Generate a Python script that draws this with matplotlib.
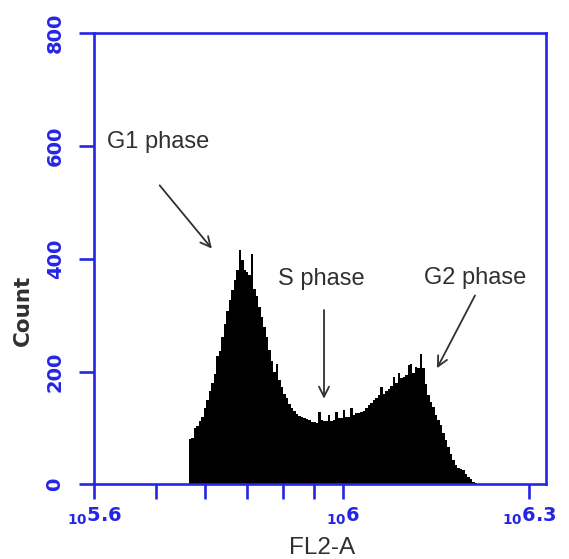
import numpy as np
import matplotlib
matplotlib.use("Agg")
import matplotlib.pyplot as plt
from matplotlib.ticker import NullFormatter

# Cell counts per FL2-A channel (log-spaced channels)
counts = [80, 82, 100, 104, 112, 120, 136, 150, 165, 180,
          196, 228, 236, 262, 285, 308, 326, 344, 362, 380,
          415, 398, 380, 376, 372, 408, 346, 334, 314, 296,
          279, 262, 238, 218, 200, 214, 186, 172, 161, 154,
          143, 136, 130, 125, 122, 120, 118, 116, 114, 111,
          110, 109, 128, 115, 113, 112, 124, 113, 115, 128,
          117, 118, 132, 119, 120, 136, 124, 126, 126, 128,
          131, 136, 140, 144, 149, 154, 158, 173, 161, 166,
          170, 174, 190, 179, 197, 188, 191, 194, 211, 214,
          198, 208, 206, 232, 206, 178, 158, 147, 138, 124,
          114, 105, 92, 79, 66, 54, 44, 35, 30, 28,
          26, 19, 14, 10, 5, 3]

# first channel edge and channel width, in decades
channel_start_log = 5.752
channel_width_log = 0.004

major_ticks_log = [5.6, 6.0, 6.3]
major_tick_labels = [r"$\mathbf{{}_{10}5.6}$", r"$\mathbf{{}_{10}6}$", r"$\mathbf{{}_{10}6.3}$"]
minor_ticks = [5e5, 6e5, 7e5, 8e5, 9e5]
y_ticks = [0, 200, 400, 600, 800]

phase_labels = ["G1 phase", "S phase", "G2 phase"]

BLUE = "#2525e6"
INK = "#303030"

fig = plt.figure(figsize=(5.69, 5.59), dpi=100)
ax = fig.add_axes([0.166, 0.1333, 0.7936, 0.8077])

edges = 10 ** (channel_start_log + channel_width_log * np.arange(len(counts) + 1))
ax.stairs(counts, edges, fill=True, color="black", linewidth=0)

ax.set_xscale("log")
ax.set_xlim(10 ** 5.6, 10 ** 6.327)
ax.set_ylim(0, 800)

ax.set_xticks(10 ** np.array(major_ticks_log), labels=major_tick_labels)
ax.set_xticks(minor_ticks, minor=True)
ax.xaxis.set_minor_formatter(NullFormatter())
ax.set_yticks(y_ticks, labels=[str(v) for v in y_ticks])

for sp in ax.spines.values():
    sp.set_color(BLUE)
    sp.set_linewidth(1.9)

ax.tick_params(axis="both", which="both", direction="out", length=10.5,
               width=1.9, color=BLUE, labelcolor=BLUE)
ax.tick_params(axis="x", which="major", pad=5, labelsize=14)
ax.tick_params(axis="y", which="major", pad=11, labelsize=14, labelrotation=90)
for lab in ax.get_yticklabels():
    lab.set_fontweight("bold")
    lab.set_verticalalignment("center")
    lab.set_fontfamily("DejaVu Sans")

# axis titles
ax.text(-0.158, 0.386, "Count", rotation=90, transform=ax.transAxes,
        ha="center", va="center", fontsize=15.5, fontweight="bold",
        color=INK, family="DejaVu Sans")
fig.text(0.504 * 0.7936 + 0.166, 0.0197, "FL2-A", ha="center", va="center",
         fontsize=17.5, color=INK, family="Liberation Sans")

txt = dict(fontsize=17, color=INK, family="Liberation Sans")
arrow = dict(arrowstyle="->", color=INK, lw=1.3, shrinkA=0, shrinkB=0,
             mutation_scale=18)

ax.text(10 ** 5.62, 596, phase_labels[0], ha="left", va="baseline", **txt)
ax.annotate("", xy=(10 ** 5.789, 418), xytext=(10 ** 5.705, 530), arrowprops=arrow)

ax.text(10 ** 5.9655, 353, phase_labels[1], ha="center", va="baseline", **txt)
ax.annotate("", xy=(10 ** 5.9696, 152), xytext=(10 ** 5.9696, 309), arrowprops=arrow)

ax.text(10 ** 6.2127, 356, phase_labels[2], ha="center", va="baseline", **txt)
ax.annotate("", xy=(10 ** 6.1515, 206), xytext=(10 ** 6.2127, 335), arrowprops=arrow)

fig.savefig("out.png", dpi=100)
